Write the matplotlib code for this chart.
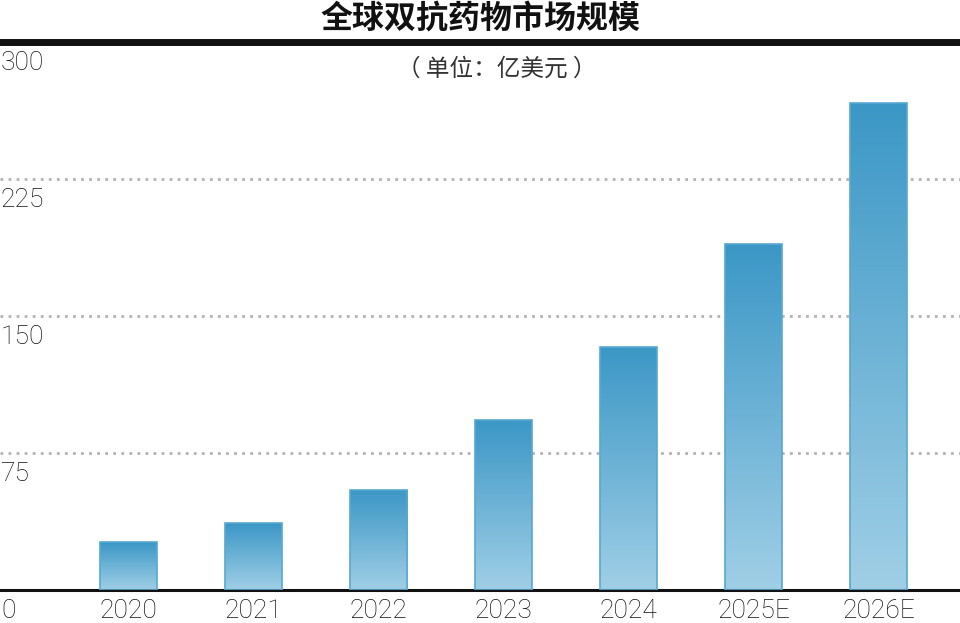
import matplotlib
matplotlib.use("Agg")
import matplotlib.pyplot as plt
import numpy as np
from matplotlib import transforms
from matplotlib.colors import LinearSegmentedColormap

# data
years = ["2020", "2021", "2022", "2023", "2024", "2025E", "2026E"]
market_size = [26, 36.5, 54.5, 93, 133, 189.5, 266.5]
y_ticks = [0, 75, 150, 225, 300]

title = "全球双抗药物市场规模"
unit_note = "（ 单位：亿美元 ）"

CJK = ["Noto Sans CJK SC", "DejaVu Sans"]
NUM_FONT = ["Roboto", "DejaVu Sans"]
GRID_COLOR = "#b3b3b3"
EDGE_COLOR = "#57a8d2"
bar_cmap = LinearSegmentedColormap.from_list("bars", ["#a0cfe6", "#3b97c6"])

fig = plt.figure(figsize=(9.6, 6.23), dpi=100)
ax = fig.add_axes([0, 33 / 623, 1, (590 - 41.5) / 623])

x = np.arange(len(years))
bar_w = 0.456
bars = ax.bar(x, market_size, width=bar_w, color="none",
              edgecolor=EDGE_COLOR, linewidth=1.2, zorder=3)

# vertical gradient inside each bar
grad = np.linspace(0, 1, 256).reshape(-1, 1)
for rect in bars:
  x0, w, h = rect.get_x(), rect.get_width(), rect.get_height()
  im = ax.imshow(grad, cmap=bar_cmap, aspect="auto", origin="lower",
                 extent=(x0, x0 + w, 0, h), zorder=2, interpolation="bilinear")
  im.set_clip_path(rect)

ax.set_xlim(-128.5 / 125, (960 - 128.5) / 125)
ax.set_ylim(0, 300)

# dotted grid lines
for v in y_ticks[1:-1]:
  ax.axhline(v, color=GRID_COLOR, linewidth=2, linestyle=(0, (1, 1.9)), zorder=1)

for side in ["left", "right"]:
  ax.spines[side].set_visible(False)
ax.spines["top"].set_linewidth(5)
ax.spines["top"].set_color("#111111")
ax.spines["bottom"].set_linewidth(2.2)
ax.spines["bottom"].set_color("#111111")

ax.set_yticks([])
ax.set_xticks(x)
ax.set_xticklabels(years, family=NUM_FONT, fontweight="light", fontsize=19, color="#111111")
ax.tick_params(axis="x", length=0, pad=6.5)

# y labels sit just under each line at the left edge
offset = transforms.ScaledTranslation(1 / 100, -9 / 100, fig.dpi_scale_trans)
for v in y_ticks:
  ax.text(0, v, str(v), transform=ax.get_yaxis_transform() + offset,
          ha="left", va="top", family=NUM_FONT, fontweight="light",
          fontsize=19, color="#111111", zorder=4)

fig.text(0.5, 1 - 19 / 623, title, ha="center", va="center",
         family=CJK, fontweight="bold", fontsize=23, color="#111111")
fig.text(497 / 960, 1 - 69 / 623, unit_note, ha="center", va="center",
         family=CJK, fontweight="light", fontsize=17, color="#333333")

fig.savefig("out.png", dpi=100)
